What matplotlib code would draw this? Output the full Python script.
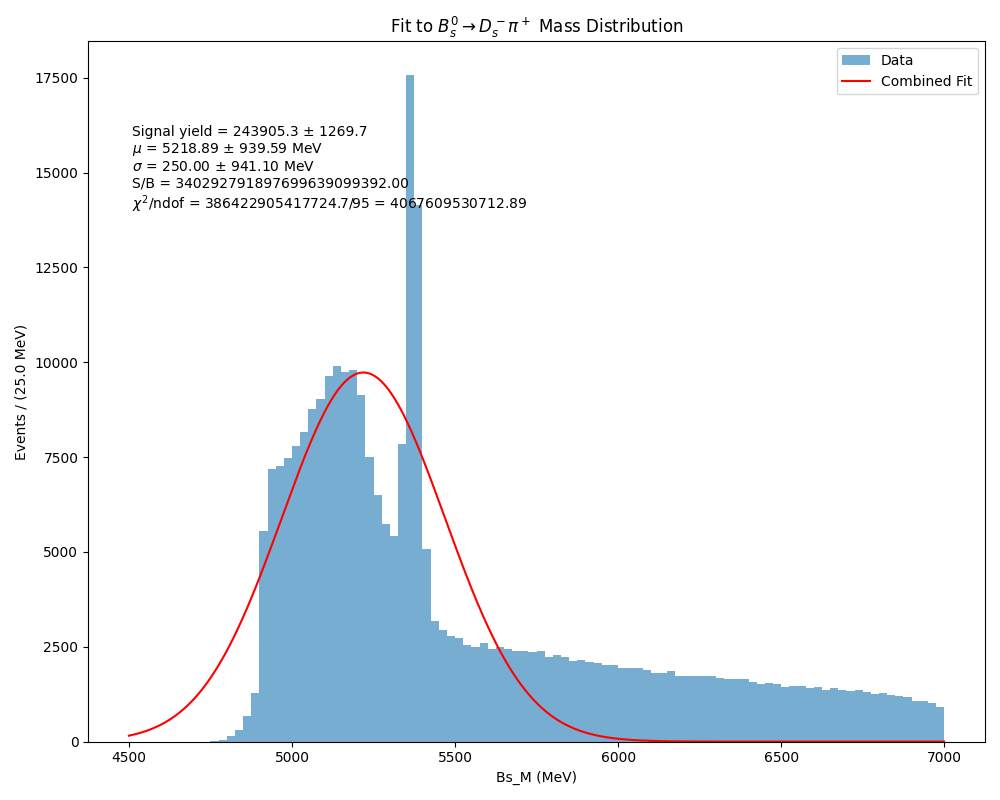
import numpy as np
import matplotlib
matplotlib.use("Agg")
import matplotlib.pyplot as plt

# Histogram binning (MeV)
mass_min = 4500.0
mass_max = 7000.0
n_bins = 100

# Events per 25 MeV bin
counts = [
    0, 0, 0, 0, 0, 0, 0, 0, 0, 0,
    12, 45, 140, 317, 686, 1293, 5542, 7178, 7257, 7468,
    7785, 8155, 8762, 9025, 9632, 9896, 9738, 9791, 9131, 7495,
    6492, 5735, 5410, 7838, 17580, 14157, 5078, 3167, 2930, 2771,
    2719, 2534, 2481, 2587, 2428, 2481, 2428, 2375, 2375, 2349,
    2375, 2217, 2270, 2217, 2112, 2164, 2085, 2059, 2032, 2032,
    1927, 1953, 1927, 1900, 1821, 1795, 1848, 1742, 1742, 1742,
    1716, 1716, 1689, 1637, 1637, 1663, 1584, 1531, 1557, 1505,
    1452, 1478, 1478, 1425, 1452, 1373, 1425, 1373, 1346, 1373,
    1320, 1267, 1293, 1241, 1214, 1188, 1082, 1082, 1029, 924,
]

# Fit parameters shown in the reference
signal_yield = 243905.3
signal_yield_err = 1269.7
mu = 5218.89
mu_err = 939.59
sigma = 250.00
sigma_err = 941.10
s_over_b = "340292791897699639099392.00"
chi2 = "386422905417724.7"
ndof = 95
chi2_ndof = "4067609530712.89"

edges = np.linspace(mass_min, mass_max, n_bins + 1)
centers = 0.5 * (edges[:-1] + edges[1:])
bin_width = edges[1] - edges[0]

fig, ax = plt.subplots(figsize=(10, 8), dpi=100)
ax.hist(centers, bins=edges, weights=counts, alpha=0.6, color="C0", label="Data")

x_fit = np.linspace(mass_min, mass_max, 1000)
y_fit = signal_yield * bin_width / (np.sqrt(2 * np.pi) * sigma) * np.exp(-0.5 * ((x_fit - mu) / sigma) ** 2)
ax.plot(x_fit, y_fit, color="red", lw=1.5, label="Combined Fit")

txt = (
    f"Signal yield = {signal_yield:.1f} ± {signal_yield_err:.1f}\n"
    f"$\\mu$ = {mu:.2f} ± {mu_err:.2f} MeV\n"
    f"$\\sigma$ = {sigma:.2f} ± {sigma_err:.2f} MeV\n"
    f"S/B = {s_over_b}\n"
    f"$\\chi^2$/ndof = {chi2}/{ndof} = {chi2_ndof}"
)
ax.text(0.049, 0.881, txt, transform=ax.transAxes, va="top", ha="left", fontsize=10)

ax.set_title(r"Fit to $B_s^0 \rightarrow D_s^- \pi^+$ Mass Distribution")
ax.set_xlabel("Bs_M (MeV)")
ax.set_ylabel(f"Events / ({bin_width:.1f} MeV)")
ax.legend(loc="upper right")

fig.tight_layout()
fig.savefig("out.png", dpi=100)
